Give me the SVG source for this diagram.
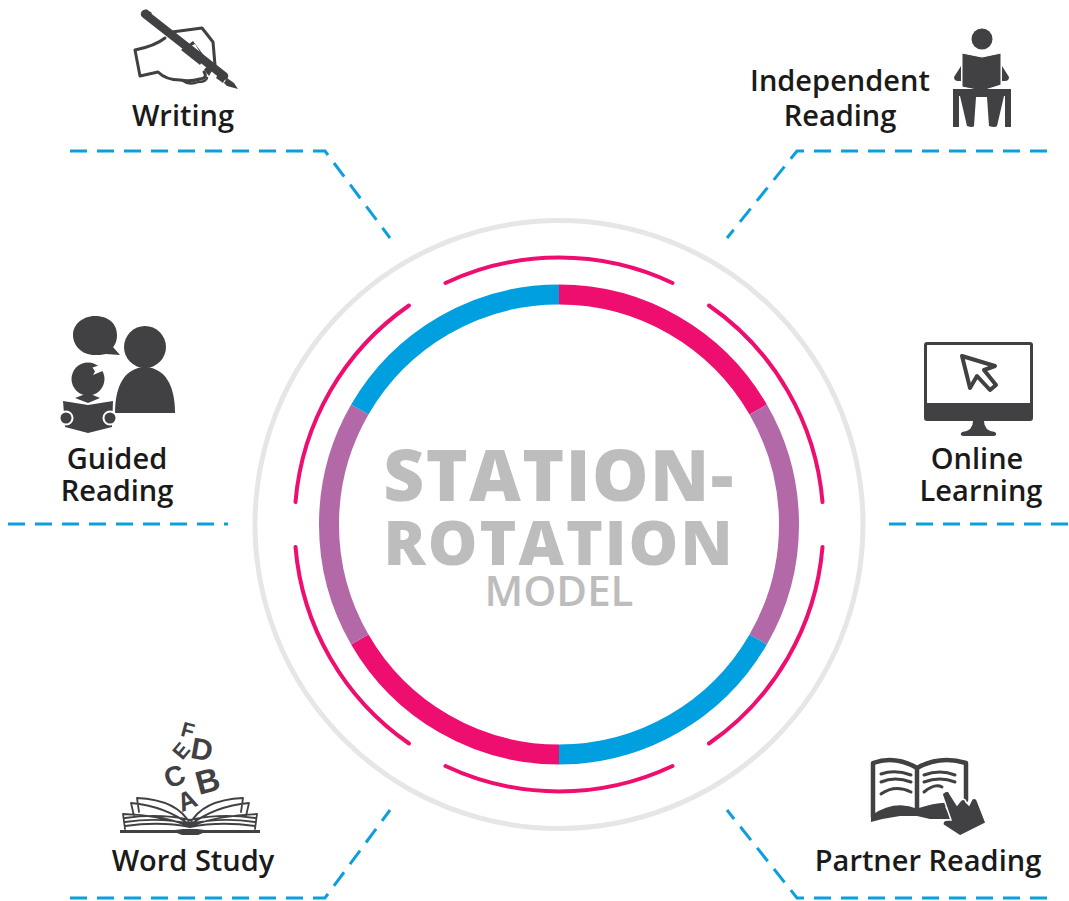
<svg xmlns="http://www.w3.org/2000/svg" width="1069" height="901" viewBox="0 0 1069 901">
<style>
text{font-family:"Open Sans","Liberation Sans",sans-serif;text-anchor:middle}
.l{font-size:29px;font-weight:600;fill:#1a1a1a}
.d{fill:none;stroke:#0d9fdc;stroke-width:3;stroke-dasharray:17 10}
.i{fill:#414042}
.o{fill:none;stroke:#414042;stroke-linejoin:round;stroke-linecap:round}
.t{fill:#bdbdbd;font-weight:800}
.m{fill:none;stroke:#ee0e6f;stroke-width:4;stroke-linecap:round}
.k{fill:none;stroke-width:20}
.g{font-family:"Liberation Sans",sans-serif;font-weight:700;fill:#414042}
</style>
<rect width="1069" height="901" fill="#fff"/>
<g id="connectors">
<path class="d" d="M70 151H325L390 238"/>
<path class="d" d="M1047 151H797L727 238"/>
<path class="d" d="M8 524H228"/>
<path class="d" d="M889 524H1069"/>
<path class="d" d="M70 898H325L390 810"/>
<path class="d" d="M1047 898H797L727 810"/>
</g>
<g id="hub">
<circle cx="559" cy="524.500" r="304" fill="none" stroke="#e6e6e6" stroke-width="5"/>
<path class="m" d="M445.500 283A266 266 0 0 1 672.500 283"/>
<path class="m" d="M709 305.500A266 266 0 0 1 822.500 502"/>
<path class="m" d="M822.500 547A266 266 0 0 1 709 743.500"/>
<path class="m" d="M672.500 766A266 266 0 0 1 445.500 766"/>
<path class="m" d="M409 743.500A266 266 0 0 1 295.500 547"/>
<path class="m" d="M295.500 502A266 266 0 0 1 409 305.500"/>
<path class="k" stroke="#ee0e6f" d="M559 294.500A230 230 0 0 1 758.200 409.500"/>
<path class="k" stroke="#b368a8" d="M758.200 409.500A230 230 0 0 1 758.200 639.500"/>
<path class="k" stroke="#009fdf" d="M758.200 639.500A230 230 0 0 1 559 754.500"/>
<path class="k" stroke="#ee0e6f" d="M559 754.500A230 230 0 0 1 359.800 639.500"/>
<path class="k" stroke="#b368a8" d="M359.800 639.500A230 230 0 0 1 359.800 409.500"/>
<path class="k" stroke="#009fdf" d="M359.800 409.500A230 230 0 0 1 559 294.500"/>
<text class="t" x="559" y="501" font-size="71" letter-spacing="1.500">STATION-</text>
<text class="t" x="559" y="565" font-size="62.500" letter-spacing="2">ROTATION</text>
<text x="559" y="606" font-size="42" font-weight="600" fill="#bdbdbd">MODEL</text>
</g>
<g id="writing">
<path class="o" stroke-width="3" d="M165 38Q155 46 135 50L140 76L158 72Q166 80 180 80Q190 82 200 79Q208 78 204 72M172 32L202 28L213 42L215 65"/>
<path class="o" stroke-width="2.500" d="M182 80Q190 86 198 82Q206 82 207 78"/>
<path class="i" d="M181 50L193 41L205 57L200 65Z"/>
<path fill="#fff" d="M191 46L195 44L201 54L198 56Z"/>
<path class="o" stroke-width="8.500" stroke-linecap="butt" d="M145 14L224 76"/>
<path class="i" d="M141 15L146 9L152 13L146 19ZM219 72L226 77L223 83L216 78ZM227 78L234 83L238 89L227 86L224 83Z"/>
<path class="i" d="M204 70A5 5 0 0 1 213 69L209 76Z"/>
<text class="l" x="183" y="126">Writing</text>
</g>
<g id="independent-reading">
<circle class="i" cx="982" cy="39" r="10.500"/>
<path class="i" d="M961 66L954 77Q954 81 958 81H961ZM1002 66L1009 77Q1009 81 1005 81H1002Z"/>
<path class="i" stroke="#fff" d="M962 53L982 57L1001 53V85L982 91L962 87Z"/>
<path class="i" d="M953 89H1011V127H1005V96H1004L997 126Q995 128 989 126L987 97H976L974 126Q973 128 967 126L960 96H959V127H953Z"/>
<text class="l" x="840" y="91">Independent</text>
<text class="l" x="840" y="126">Reading</text>
</g>
<g id="guided-reading">
<path class="i" d="M95 316C110 316 117 325 117 335C117 341 115 345 113 347L120 355L106 354C102 355 98 355 95 355C81 355 73 345 73 335C73 325 82 316 95 316Z"/>
<circle class="i" cx="145" cy="347" r="21"/>
<path class="i" d="M115 413C115 385 125 368 145 367C165 368 175 385 175 413Z"/>
<circle class="i" cx="88" cy="379" r="16.500"/>
<path fill="#fff" d="M92.500 367.500L95 371.500L93 375L105 370L103 364Z"/>
<path class="i" d="M75 398L88 393L100 398L88 403Z"/>
<path class="i" d="M63 401L88 405L113 401L112 427L88 433L65 427Z"/>
<circle class="i" cx="66" cy="418" r="6.500" stroke="#fff" stroke-width="2"/>
<circle class="i" cx="110" cy="418" r="6.500" stroke="#fff" stroke-width="2"/>
<text class="l" x="117" y="469">Guided</text>
<text class="l" x="117" y="501">Reading</text>
</g>
<g id="online-learning">
<path class="i" d="M927 342H1030A3 3 0 0 1 1033 345V418A3 3 0 0 1 1030 421H984Q984 431 995 432Q998 435 994 436H963Q959 435 962 432Q973 431 973 421H927A3 3 0 0 1 924 418V345A3 3 0 0 1 927 342ZM927 345V403H1030V345Z" fill-rule="evenodd"/>
<path class="o" stroke-width="4" d="M962 356L995 366L984 370L996 385L990 390L977 376L970 388Z"/>
<text class="l" x="977" y="469">Online</text>
<text class="l" x="981" y="501">Learning</text>
</g>
<g id="word-study">
<text class="g" font-size="21" x="0" y="7.500" transform="translate(188 730) rotate(15)">F</text>
<text class="g" font-size="21" x="0" y="7.500" transform="translate(181 750.500) rotate(-50)">E</text>
<text class="g" font-size="30" x="0" y="10.800" transform="translate(202 749) rotate(10)">D</text>
<text class="g" font-size="28" x="0" y="10" transform="translate(174.500 776) rotate(-22)">C</text>
<text class="g" font-size="33" x="0" y="11.900" transform="translate(207.500 780.500) rotate(-15)">B</text>
<text class="g" font-size="26" x="0" y="9.400" transform="translate(187 800) rotate(-22)">A</text>
<path class="o" stroke-width="1.800" d="M190 824Q178 800 137 798L139 812M190 825Q165 806 131 803L134 816M190 826Q160 815 123 814L125 829M190 820Q160 813 125 818M190 824Q160 817 125 822M190 827Q160 821 125 826"/>
<path class="o" stroke-width="1.800" d="M190 824Q202 800 243 798L241 812M190 825Q215 806 249 803L246 816M190 826Q220 815 257 814L255 829M190 820Q220 813 255 818M190 824Q220 817 255 822M190 827Q220 821 255 826"/>
<path class="i" d="M120 830H175L183 829H197L205 830H260V833H203L198 835H182L177 833H120Z"/>
<text class="l" x="193" y="871">Word Study</text>
</g>
<g id="partner-reading">
<path class="o" stroke-width="4.500" d="M917 768Q895 755 873 763V817Q895 802 917 811Q935 805 945 805M917 768Q940 755 966 763V800M917 768V811"/>
<path class="i" d="M871 818Q895 803 917 811Q930 804 944 805L952 819H930L917 816L900 816Q885 818 871 822Z"/>
<path class="o" stroke-width="3" d="M881 774Q895 769 911 775M881 782Q895 776 911 782M881 794Q895 784 911 792M924 775Q940 769 955 775M924 782Q940 776 955 782M924 792Q935 783 942 787"/>
<path class="i" d="M942 794Q948 788 950 794L957 805L961 800Q965 798 966 802L969 805L972 799Q975 797 977 800L986 823L960 836L943 825Q942 820 948 820L951 820Z" stroke="#fff" stroke-width="1.500"/>
<text class="l" x="928" y="871">Partner Reading</text>
</g>
</svg>
